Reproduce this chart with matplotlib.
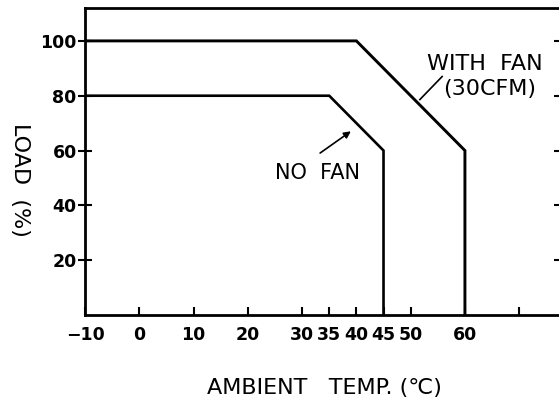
import matplotlib.pyplot as plt

# derating curves
temp_fan = [-10, 40, 60, 60]
load_fan = [100, 100, 60, 0]
temp_nofan = [-10, 35, 45, 45]
load_nofan = [80, 80, 60, 0]

x_ticks = [-10, 0, 10, 20, 30, 35, 40, 45, 50, 60, 70]
x_labels = ['\u221210', '0', '10', '20', '30', '35', '40', '45', '50', '60', '']
y_ticks = [20, 40, 60, 80, 100]

fig = plt.figure(figsize=(5.59, 4.04), dpi=100)
ax = fig.add_axes([85 / 559, 89 / 404, 476 / 559, 307 / 404])

ax.plot(temp_fan, load_fan, color='black', lw=2.1, solid_joinstyle='miter')
ax.plot(temp_nofan, load_nofan, color='black', lw=1.9, solid_joinstyle='miter')

ax.set_xlim(-10, 77.7)
ax.set_ylim(0, 112)

ax.set_xticks(x_ticks)
ax.set_xticklabels(x_labels, fontsize=12.5, fontweight='heavy')
ax.set_yticks(y_ticks)
ax.set_yticklabels([str(v) for v in y_ticks], fontsize=12.5, fontweight='heavy')

ax.tick_params(axis='x', direction='in', length=6, width=1.5, pad=8)
ax.tick_params(axis='y', direction='inout', length=10, width=1.5, pad=1,
               right=True)
for s in ax.spines.values():
    s.set_linewidth(2)

# annotations
ax.text(53.0, 91.4, 'WITH  FAN', fontsize=16, ha='left', va='center')
ax.text(55.9, 82.3, '(30CFM)', fontsize=16, ha='left', va='center')
ax.plot([55.8, 51.7], [87.0, 78.6], color='black', lw=1.2)

ax.text(25.0, 51.9, 'NO  FAN', fontsize=15, ha='left', va='center')
ax.annotate('', xy=(39.4, 67.6), xytext=(32.9, 58.5),
            arrowprops=dict(arrowstyle='-|>', color='black', lw=1.2,
                            mutation_scale=10))

fig.text(20 / 559, 1 - 180 / 404, 'LOAD  (%)', rotation=-90, fontsize=16,
         ha='center', va='center')
fig.text(324 / 559, 1 - 388 / 404, 'AMBIENT   TEMP. (\u2103)', fontsize=16,
         ha='center', va='center')

fig.savefig('out.png', dpi=100)
